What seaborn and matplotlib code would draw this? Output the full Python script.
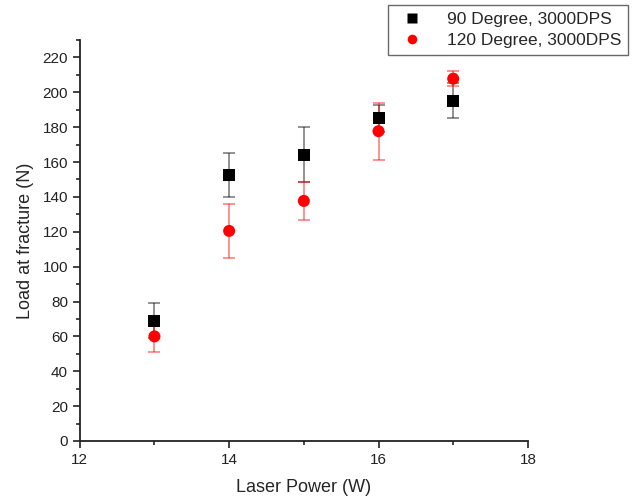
import numpy as np
import pandas as pd
import matplotlib
matplotlib.use("Agg")
import matplotlib.pyplot as plt
import seaborn as sns

power = [13, 14, 15, 16, 17]
load_90 = [69, 152.5, 164.3, 185, 195.2]
err_90 = [10, 12.5, 16, 8, 10]
load_120 = [60, 120.5, 137.7, 177.7, 207.8]
err_120 = [9, 15.5, 10.7, 16.3, 4.2]
labels = ["90 Degree, 3000DPS", "120 Degree, 3000DPS"]

sns.set_style("ticks")
plt.rcParams["font.family"] = ["Liberation Sans", "DejaVu Sans"]

df = pd.DataFrame({
    "power": power * 2,
    "load": load_90 + load_120,
    "series": [labels[0]] * len(power) + [labels[1]] * len(power),
})

fig = plt.figure(figsize=(6.33, 5.0), dpi=100)
ax = fig.add_axes([0.126, 0.118, 0.708, 0.802])

# error bars drawn first, semi-transparent like the original
ax.errorbar(power, load_90, yerr=err_90, fmt="none", ecolor="black",
            alpha=0.5, capsize=4, elinewidth=1.2, capthick=1.2)
ax.errorbar(power, load_120, yerr=err_120, fmt="none", ecolor="red",
            alpha=0.5, capsize=4, elinewidth=1.2, capthick=1.2)

sns.scatterplot(data=df, x="power", y="load", hue="series", style="series",
                palette={labels[0]: "black", labels[1]: "red"},
                markers={labels[0]: "s", labels[1]: "o"},
                s=75, edgecolor="none", ax=ax, zorder=3)

ax.set_xlim(12, 18)
ax.set_ylim(0, 230)
ax.set_xticks([12, 14, 16, 18])
ax.set_xticks([13, 15, 17], minor=True)
ax.set_yticks(np.arange(0, 221, 20))
ax.set_yticks(np.arange(10, 231, 20), minor=True)
ax.tick_params(axis="both", which="major", direction="out", length=5,
               width=1.2, labelsize=11, colors="#222222")
ax.tick_params(axis="both", which="minor", direction="out", length=3, width=1.2)
sns.despine(ax=ax)
for sp in ["left", "bottom"]:
    ax.spines[sp].set_linewidth(1.3)
    ax.spines[sp].set_color("#222222")

ax.set_xlabel("Laser Power (W)", fontsize=13, labelpad=9)
ax.set_ylabel("Load at fracture (N)", fontsize=13, labelpad=6)

ax.get_legend().remove()
handles, _ = ax.get_legend_handles_labels()
leg = fig.legend(handles, labels, loc="upper right",
                 bbox_to_anchor=(0.992, 0.99), fontsize=12.5, frameon=True,
                 fancybox=False, edgecolor="#444444", borderpad=0.4,
                 handletextpad=1.0, labelspacing=0.35, markerscale=0.8,
                 borderaxespad=0.0)
leg.get_frame().set_linewidth(1.0)

fig.savefig("out.png", dpi=100)
